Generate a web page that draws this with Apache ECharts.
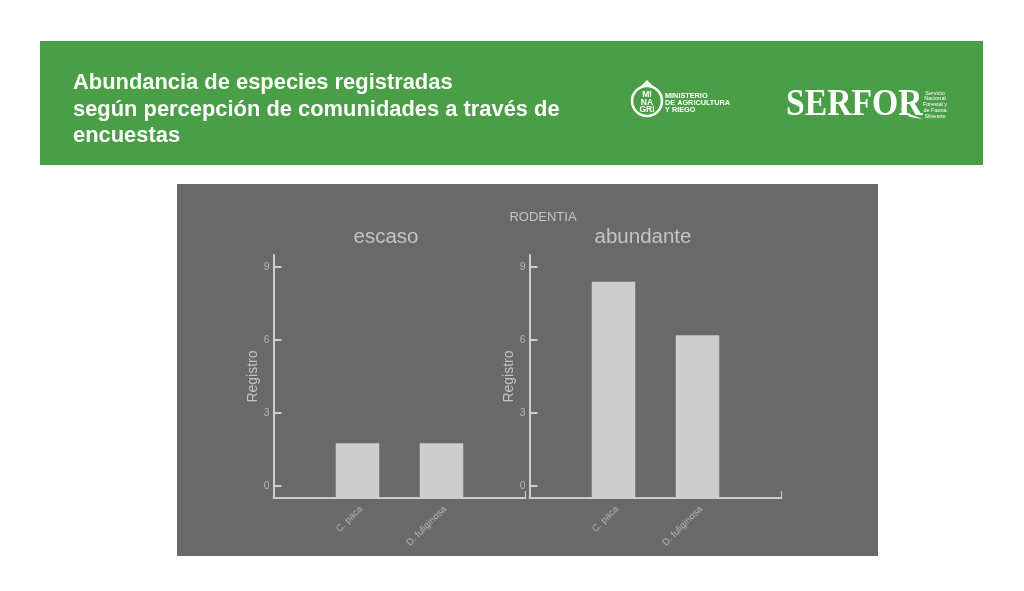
<!DOCTYPE html>
<html>
<head>
<meta charset="utf-8">
<title>Abundancia de especies registradas</title>
<script src="https://cdn.jsdelivr.net/npm/echarts@6/dist/echarts.min.js"></script>
<style>
  html, body { margin: 0; padding: 0; background: #fff; }
  #chart { width: 1024px; height: 591px; }
</style>
</head>
<body>
<div id="chart"></div>
<script>
var categories = ['', 'C. paca', 'D. fuliginosa', ''];
var escasoValues = [null, 1.75, 1.75, null];
var abundanteValues = [null, 8.4, 6.2, null];
var yTicks = [0, 3, 6, 9];
var headingLines = [
    'Abundancia de especies registradas',
    'según percepción de comunidades a través de',
    'encuestas'
];
var serforLines = ['Servicio', 'Nacional', 'Forestal y', 'de Fauna', 'Silvestre'];
var minagriLines = ['MINISTERIO', 'DE AGRICULTURA', 'Y RIEGO'];
var minagriMark = ['MI', 'NA', 'GRI'];

(function () {
    'use strict';

    var FONT = '"Liberation Sans", Arial, sans-serif';
    var LIGHT = '#cdcdcd';
    var TEXT = '#c4c4c4';
    var TICK_TEXT = '#b4b4b4';
    var PANEL = '#696969';
    var GREEN = '#4a9e46';

    var chart = echarts.init(document.getElementById('chart'));

    function textEl(text, x, y, size, opts) {
        opts = opts || {};
        return {
            type: 'text',
            x: x,
            y: y,
            z: 1,
            scaleX: opts.scaleX || 1,
            style: {
                text: text,
                fill: opts.fill || '#fff',
                font: (opts.weight || 'normal') + ' ' + size + 'px ' + (opts.family || FONT),
                textAlign: opts.align || 'left',
                textVerticalAlign: 'middle'
            }
        };
    }

    function buildGraphics() {
        var els = [
            { type: 'rect', z: -10, shape: { x: 40, y: 41, width: 943, height: 124 }, style: { fill: GREEN } },
            { type: 'rect', z: -10, shape: { x: 177, y: 184, width: 701, height: 372 }, style: { fill: PANEL } },
            // minagri drop
            { type: 'polygon', z: 0, shape: { points: [[647, 80], [635, 92], [659, 92]] }, style: { fill: '#fff' } },
            { type: 'circle', z: 0, shape: { cx: 647, cy: 101, r: 15 }, style: { fill: GREEN, stroke: '#fff', lineWidth: 2.5 } },
            // swoosh under the R of SERFOR
            { type: 'polygon', z: 0, shape: { points: [[899, 108], [910, 117], [923, 119], [909, 114]] }, style: { fill: '#fff' } }
        ];
        headingLines.forEach(function (line, i) {
            els.push(textEl(line, 73, 83 + i * 26.5, 21.9, { weight: 'bold' }));
        });
        minagriMark.forEach(function (line, i) {
            els.push(textEl(line, 647, 95 + i * 7.5, 8.5, { weight: 'bold', align: 'center' }));
        });
        minagriLines.forEach(function (line, i) {
            els.push(textEl(line, 665, 96 + i * 7.2, 7.3, { weight: 'bold' }));
        });
        els.push(textEl('SERFOR', 786, 105, 37, {
            weight: 'bold',
            family: '"Liberation Serif", serif',
            scaleX: 0.91
        }));
        serforLines.forEach(function (line, i) {
            els.push(textEl(line, 935, 93 + i * 5.8, 5.5, { align: 'center' }));
        });
        els.push(textEl('RODENTIA', 543, 217, 13, { fill: TEXT, align: 'center' }));
        els.push(textEl('escaso', 386, 237, 20.5, { fill: TEXT, align: 'center' }));
        els.push(textEl('abundante', 643, 237, 20.5, { fill: TEXT, align: 'center' }));
        return els;
    }

    function xAxisFor(gridIndex) {
        return {
            type: 'category',
            gridIndex: gridIndex,
            data: categories,
            boundaryGap: false,
            axisLine: { onZero: false, lineStyle: { color: LIGHT, width: 2 } },
            axisTick: {
                show: true,
                inside: true,
                length: 7,
                customValues: [3],
                lineStyle: { color: LIGHT, width: 1 }
            },
            axisLabel: {
                interval: 0,
                rotate: 45,
                margin: 6,
                verticalAlign: 'top',
                fontSize: 9.5,
                fontFamily: FONT,
                color: TICK_TEXT
            }
        };
    }

    function yAxisFor(gridIndex) {
        return {
            type: 'value',
            gridIndex: gridIndex,
            min: -0.5,
            max: 9.5,
            // bars stand on the axis line, not on the zero tick
            startValue: -0.5,
            name: 'Registro',
            nameLocation: 'middle',
            nameGap: 11,
            nameTextStyle: { color: TEXT, fontSize: 14, fontFamily: FONT },
            splitLine: { show: false },
            axisLine: { show: true, lineStyle: { color: LIGHT, width: 2 } },
            axisTick: {
                show: true,
                inside: true,
                length: 8,
                customValues: yTicks,
                lineStyle: { color: LIGHT, width: 2 }
            },
            axisLabel: {
                customValues: yTicks,
                margin: 4,
                fontSize: 10.5,
                fontFamily: FONT,
                color: TICK_TEXT
            }
        };
    }

    function barSeries(index, values) {
        return {
            type: 'bar',
            xAxisIndex: index,
            yAxisIndex: index,
            data: values,
            barWidth: 43.5,
            silent: true,
            itemStyle: { color: LIGHT }
        };
    }

    chart.setOption({
        animation: false,
        backgroundColor: '#fff',
        graphic: { elements: buildGraphics() },
        grid: [
            { left: 273.5, top: 255, width: 252, height: 243 },
            { left: 529.5, top: 255, width: 252, height: 243 }
        ],
        xAxis: [xAxisFor(0), xAxisFor(1)],
        yAxis: [yAxisFor(0), yAxisFor(1)],
        series: [barSeries(0, escasoValues), barSeries(1, abundanteValues)]
    });
})();
</script>
</body>
</html>
